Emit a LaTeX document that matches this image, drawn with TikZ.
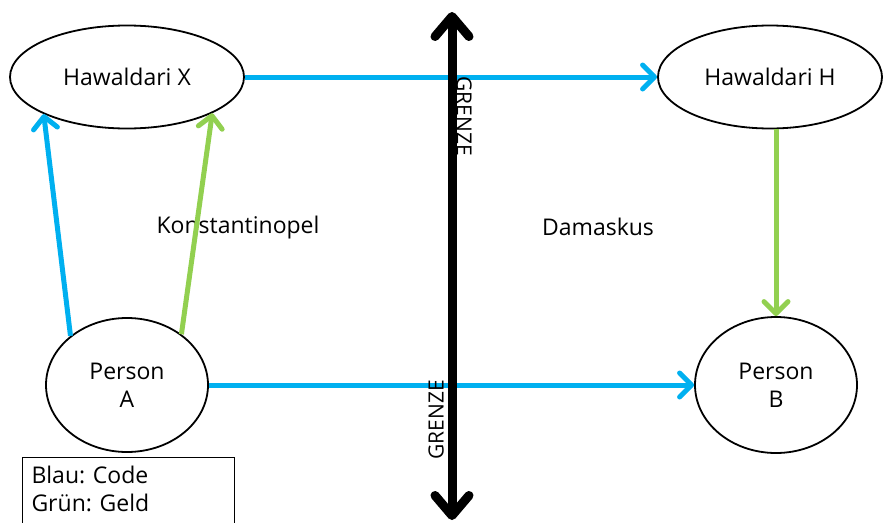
\documentclass[tikz,border=0pt]{standalone}
\usepackage{fontspec}
\setmainfont{Open Sans}
\usepackage{tikz}
\usetikzlibrary{shapes.geometric, arrows.meta}
\usepackage{xcolor}
\definecolor{codeblau}{HTML}{00B0F0}
\definecolor{geldgruen}{HTML}{92D050}
\frenchspacing

\begin{document}
\begin{tikzpicture}[x=1pt, y=-1pt,
    every node/.style={font=\fontsize{23}{28}\selectfont},
    hawala/.style={ellipse, draw, line width=1.8pt, inner sep=0pt},
    person/.style={ellipse, draw, line width=1.8pt, inner sep=0pt, align=center},
    code/.style={codeblau, line width=5pt, -{Straight Barb[length=12pt, width=24pt, round]}},
    geld/.style={geldgruen, line width=5pt, -{Straight Barb[length=12pt, width=24pt, round]}},
    grenze/.style={line width=9pt, {Straight Barb[length=20pt, width=34pt, round]}-{Straight Barb[length=20pt, width=34pt, round]}}]
    \useasboundingbox (0,0) rectangle (883,522);
    % Knoten
    \node[hawala, minimum width=234pt, minimum height=103pt] (hx) at (127,77) {Hawaldari X};
    \node[hawala, minimum width=224pt, minimum height=103pt] (hh) at (770,77) {Hawaldari H};
    \node[person, minimum width=162pt, minimum height=134pt] (pa) at (127,385) {Person\\A};
    \node[person, minimum width=162pt, minimum height=136pt] (pb) at (776,385) {Person\\B};
    \node (konst) at (238,228) {Konstantinopel};
    \node (dam) at (598,227) {Damaskus};
    % Pfeile
    \draw[code] (hx) -- (hh);
    \draw[code] (pa) -- (pb);
    \draw[code] (pa.139) -- (hx.204);
    \draw[geld] (pa.43) -- (hx.337);
    \draw[geld] (hh.south -| pb.north) -- (pb.north);
    % Grenze
    \coordinate (oben) at (452,12);
    \coordinate (unten) at (452,520);
    \draw[grenze] (oben) -- (unten);
    \node[rotate=-90, font=\fontsize{21}{24}\selectfont] (g1) at (464,116) {GRENZE};
    \node[rotate=90, font=\fontsize{21}{24}\selectfont] (g2) at (436,420) {GRENZE};
    % Legende
    \node[draw, line width=1pt, anchor=north west, align=left, inner xsep=9pt,
          inner ysep=9pt, text width=194pt, minimum height=90pt] (leg) at (22,457)
          {Blau: Code\\Grün: Geld\\[6pt]\mbox{}};
\end{tikzpicture}
\end{document}
